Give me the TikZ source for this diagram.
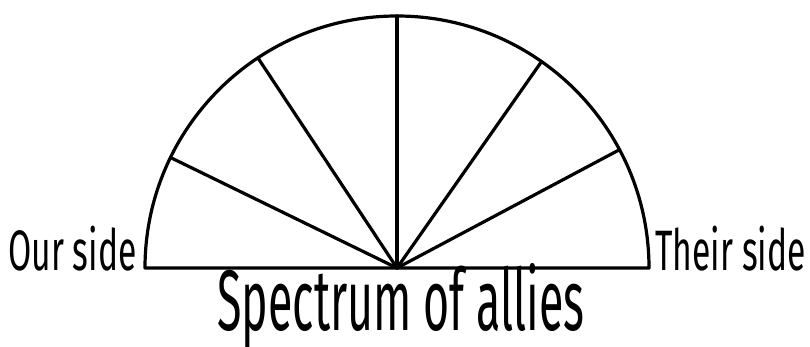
\documentclass[tikz,border=0pt]{standalone}
\usepackage{fontspec}
\usetikzlibrary{calc}
\setmainfont{Fira Sans}
\newfontfamily\condfont[FakeStretch=0.52]{Fira Sans}
\newfontfamily\sidefont[FakeStretch=0.59]{Fira Sans}
\begin{document}
\begin{tikzpicture}[x=1pt,y=-1pt,
  edge/.style={line width=3.2pt,line cap=round,line join=round},
  side/.style={inner sep=0pt,font=\sidefont\fontsize{57}{60}\selectfont},
  title/.style={inner sep=0pt,font=\condfont\fontsize{86}{90}\selectfont}]
\useasboundingbox (0,0) rectangle (810,347);
\coordinate (c) at (397,268);
\coordinate (l) at (145,268);
\coordinate (r) at (649,268);
\draw[edge] (l) -- (r) arc[start angle=0,end angle=-180,radius=252] -- cycle;
\foreach \a/\n in {154/p1,123.5/p2,90/p3,55/p4,28/p5}{
  \coordinate (\n) at ($(c)+(-\a:252)$);
}
\foreach \n in {p1,p2,p3,p4,p5}{\draw[edge] (c) -- (\n);}
\node[side,anchor=base west] (our) at (8,270) {Our side};
\node[side,anchor=base west] (their) at (655,270) {Their side};
\node[title,anchor=base] (spec) at (401,330) {Spectrum of allies};
\end{tikzpicture}
\end{document}
